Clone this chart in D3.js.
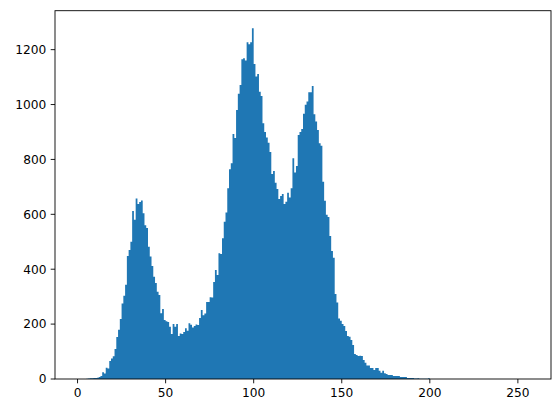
<!DOCTYPE html>
<html><head><meta charset="utf-8">
<script src="https://cdn.jsdelivr.net/npm/d3@7"></script>
<style>body{margin:0;background:#fff}svg{display:block}text{font-family:"DejaVu Sans",sans-serif;}</style>
</head><body>
<script>
// histogram bin edges: 0..256, width 1
const binStarts = d3.range(0, 256);
const counts = [
0,0,0,0,0,1,2,3,3,4, 4,5,7,11,25,20,41,38,66,75,
83,109,153,179,219,275,303,343,448,470, 500,612,580,658,638,645,650,604,560,550,
482,446,412,373,350,318,306,240,255,215, 210,208,190,164,200,190,200,157,166,164,
171,185,176,203,198,188,193,199,197,222, 251,232,239,281,281,298,297,353,397,379,
458,455,513,573,607,695,764,786,893,878, 980,1039,1071,1165,1169,1160,1227,1220,1227,1278,
1148,1102,1111,1047,1031,932,900,880,861,827, 747,758,715,692,656,667,674,638,646,679,
661,695,804,752,776,889,900,911,966,999, 1011,1045,1045,1068,965,938,907,859,850,719,
649,598,590,521,466,442,310,279,220,212, 200,193,175,157,154,142,124,91,87,84,
85,84,69,59,49,49,40,40,33,40, 40,30,23,30,21,18,15,15,15,11,
11,11,11,7,7,7,7,4,4,4, 4,2,2,3,1,1,1,1,1,3,
0,0,0,0,0,0,0,0,0,0, 0,0,0,0,0,0,0,0,0,0,
0,0,0,0,0,0,0,0,0,0, 0,0,0,0,0,0,0,0,0,0,
0,0,0,0,0,0,0,0,0,0, 0,0,0,0,0,0,0,0,0,0,
0,0,0,0,0,0,0,0,0,0, 0,0,0,0,0,4
];
const xTicks = [0, 50, 100, 150, 200, 250];
const yTicks = [0, 200, 400, 600, 800, 1000, 1200];

const W = 560, H = 413;
const L = 55, R = 551, T = 10.7, B = 379;
const svg = d3.select("body").append("svg").attr("width", W).attr("height", H);

const xmin = 0, xmax = 256, pad = (xmax - xmin) * 0.05;
const x = d3.scaleLinear().domain([xmin - pad, xmax + pad]).range([L, R]);
const ymax = d3.max(counts) * 1.05;
const y = d3.scaleLinear().domain([0, ymax]).range([B, T]);

const data = binStarts.map((s, i) => ({s, c: counts[i]}));
// bars merged into one path so adjacent bars have no seams
const p = d3.path();
data.filter(d => d.c > 0).forEach(d => {
  p.rect(x(d.s), y(d.c), x(d.s + 1) - x(d.s), y(0) - y(d.c));
});
svg.append("path").attr("d", p.toString()).attr("fill", "#1f77b4").attr("fill-rule", "nonzero");

// spines
svg.append("rect").attr("x", L).attr("y", T).attr("width", R - L).attr("height", B - T)
  .attr("fill", "none").attr("stroke", "#000").attr("stroke-width", 0.9);

const fs = 12.2;
const gx = svg.append("g");
xTicks.forEach(t => {
  gx.append("line").attr("x1", x(t)).attr("x2", x(t)).attr("y1", B).attr("y2", B + 4.3)
    .attr("stroke", "#000").attr("stroke-width", 0.9);
  gx.append("text").attr("x", x(t)).attr("y", B + 8.6 + fs * 0.76)
    .attr("text-anchor", "middle").attr("font-size", fs).attr("fill", "#000").text(t);
});
const gy = svg.append("g");
yTicks.forEach(t => {
  gy.append("line").attr("x1", L - 4.3).attr("x2", L).attr("y1", y(t)).attr("y2", y(t))
    .attr("stroke", "#000").attr("stroke-width", 0.9);
  gy.append("text").attr("x", L - 8.6).attr("y", y(t)).attr("dy", "0.36em")
    .attr("text-anchor", "end").attr("font-size", fs).attr("fill", "#000").text(t);
});
</script>
</body></html>
